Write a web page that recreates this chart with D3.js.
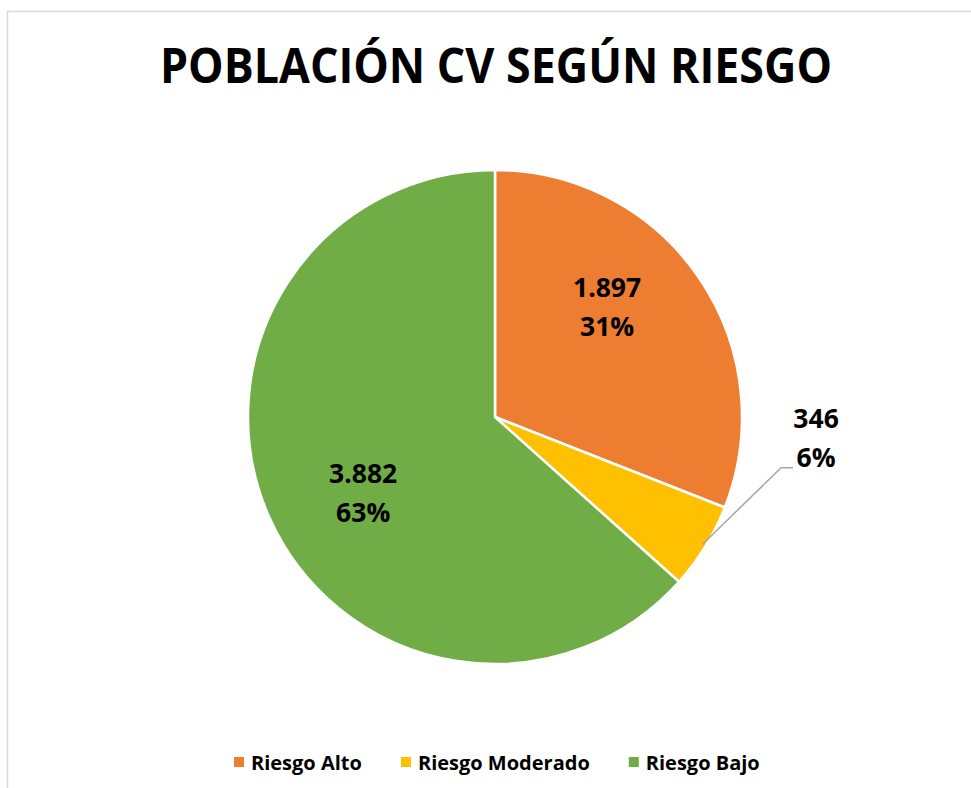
<!DOCTYPE html>
<html>
<head>
<meta charset="utf-8">
<script src="https://cdn.jsdelivr.net/npm/d3@7"></script>
<style>
  body { margin: 0; background: #fff; }
  text { font-family: "Open Sans", "Noto Sans", sans-serif; font-weight: bold; fill: #000; }
</style>
</head>
<body>
<script>
const svg_width = 971;
const svg_height = 788;
const cx = 495;
const cy = 417;
const radius = 247;

const title = 'POBLACIÓN CV SEGÚN RIESGO';
const categories = ['Riesgo Alto', 'Riesgo Moderado', 'Riesgo Bajo'];
const values = [1897, 346, 3882];
const colors = ['#ED7D31', '#FFC000', '#70AD47'];

const num_format = d3.formatLocale({decimal: ',', thousands: '.', grouping: [3], currency: ['', '']}).format(',d');
const total = d3.sum(values);

const svg = d3.select('body')
    .append('svg')
    .attr('width', svg_width)
    .attr('height', svg_height);

// frame of the chart area, cut by the picture on right and bottom
svg.append('rect')
    .attr('x', 7.5)
    .attr('y', 11.5)
    .attr('width', svg_width + 20)
    .attr('height', svg_height + 20)
    .attr('fill', 'none')
    .attr('stroke', '#d9d9d9')
    .attr('stroke-width', 1.5);

svg.append('text')
    .attr('x', 496)
    .attr('y', 83)
    .attr('text-anchor', 'middle')
    .attr('font-size', 48)
    .attr('textLength', 672)
    .attr('lengthAdjust', 'spacingAndGlyphs')
    .text(title);

const pie = d3.pie().sort(null).value(d => d.value);
const data = categories.map((c, i) => ({name: c, value: values[i], color: colors[i]}));
const arcs = pie(data);
const arc = d3.arc().innerRadius(0).outerRadius(radius);

const g = svg.append('g').attr('transform', `translate(${cx},${cy})`);

g.selectAll('path')
    .data(arcs)
    .join('path')
    .attr('d', arc)
    .attr('fill', d => d.data.color)
    .attr('stroke', '#fff')
    .attr('stroke-width', 2.5)
    .attr('stroke-linejoin', 'round');

// inside labels: Excel best fit, roughly 0.62 r
const label_arc = d3.arc().innerRadius(radius * 0.62).outerRadius(radius * 0.62);
const inside_shift = [[-14.5, -14.5], null, [8, 23.5]];

arcs.forEach((a, i) => {
    let x, y;
    if (inside_shift[i]) {
        const c = label_arc.centroid(a);
        x = c[0] + inside_shift[i][0];
        y = c[1] + inside_shift[i][1];
    } else {
        // outside label with leader line
        const mid = (a.startAngle + a.endAngle) / 2;
        const p0 = [Math.sin(mid) * radius * 0.985, -Math.cos(mid) * radius * 0.985];
        const p1 = [p0[0] + 79, p0[1] - 77];
        const p2 = [p1[0] + 12, p1[1]];
        g.append('polyline')
            .attr('points', [p0, p1, p2].map(p => p.join(',')).join(' '))
            .attr('fill', 'none')
            .attr('stroke', '#a6a6a6')
            .attr('stroke-width', 1.5);
        x = p2[0] + 23;
        y = p2[1] - 20;
    }
    const t = g.append('text')
        .attr('text-anchor', 'middle')
        .attr('font-size', 26.5);
    t.append('tspan').attr('x', x).attr('y', y - 19.5).text(num_format(a.data.value));
    t.append('tspan').attr('x', x).attr('y', y + 19.5).text(d3.format('.0%')(a.data.value / total));
});

// legend
const legend = svg.append('g').attr('transform', 'translate(234,770)');
let lx = 0;
categories.forEach((c, i) => {
    const item = legend.append('g').attr('transform', `translate(${lx},0)`);
    item.append('rect')
        .attr('x', 0)
        .attr('y', -13)
        .attr('width', 10)
        .attr('height', 10)
        .attr('fill', colors[i]);
    const t = item.append('text')
        .attr('x', 17)
        .attr('y', 0)
        .attr('font-size', 20)
        .text(c);
    lx += 17 + t.node().getComputedTextLength() + 39;
});
</script>
</body>
</html>
